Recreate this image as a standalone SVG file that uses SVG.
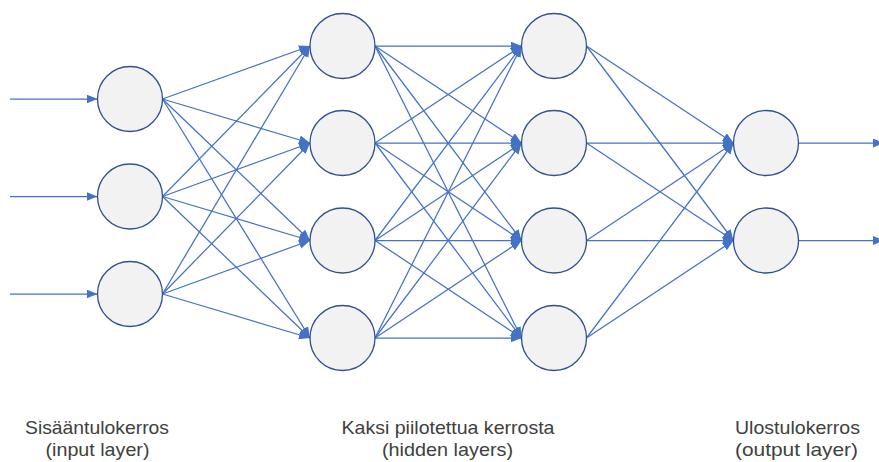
<svg xmlns="http://www.w3.org/2000/svg" width="879" height="462" viewBox="0 0 879 462">
<style>
.node{fill:#F2F2F2;stroke:#2F528F;stroke-width:1.3}
.edge{stroke:#4472C4;stroke-width:1.25;fill:none;marker-end:url(#arr)}
.lbl{font-family:"Liberation Sans",Arial,sans-serif;font-size:19px;fill:#404040;text-anchor:middle}
</style>
<defs>
<marker id="arr" markerUnits="userSpaceOnUse" markerWidth="12" markerHeight="10" refX="11" refY="4.5" orient="auto" viewBox="0 0 12 10">
<path d="M0,0 L11,4.5 L0,9 z" fill="#4472C4"/>
</marker>
</defs>
<rect width="879" height="462" fill="#ffffff"/>
<g id="connectors">
<line class="edge" x1="10" y1="99" x2="97.5" y2="99"/>
<line class="edge" x1="10" y1="196.5" x2="97.5" y2="196.5"/>
<line class="edge" x1="10" y1="294" x2="97.5" y2="294"/>
<line class="edge" x1="162.5" y1="99" x2="310" y2="46"/>
<line class="edge" x1="162.5" y1="99" x2="310" y2="143"/>
<line class="edge" x1="162.5" y1="99" x2="310" y2="240.5"/>
<line class="edge" x1="162.5" y1="99" x2="310" y2="338"/>
<line class="edge" x1="162.5" y1="196.5" x2="310" y2="46"/>
<line class="edge" x1="162.5" y1="196.5" x2="310" y2="143"/>
<line class="edge" x1="162.5" y1="196.5" x2="310" y2="240.5"/>
<line class="edge" x1="162.5" y1="196.5" x2="310" y2="338"/>
<line class="edge" x1="162.5" y1="294" x2="310" y2="46"/>
<line class="edge" x1="162.5" y1="294" x2="310" y2="143"/>
<line class="edge" x1="162.5" y1="294" x2="310" y2="240.5"/>
<line class="edge" x1="162.5" y1="294" x2="310" y2="338"/>
<line class="edge" x1="375" y1="46" x2="521.5" y2="46"/>
<line class="edge" x1="375" y1="46" x2="521.5" y2="143"/>
<line class="edge" x1="375" y1="46" x2="521.5" y2="240.5"/>
<line class="edge" x1="375" y1="46" x2="521.5" y2="338"/>
<line class="edge" x1="375" y1="143" x2="521.5" y2="46"/>
<line class="edge" x1="375" y1="143" x2="521.5" y2="143"/>
<line class="edge" x1="375" y1="143" x2="521.5" y2="240.5"/>
<line class="edge" x1="375" y1="143" x2="521.5" y2="338"/>
<line class="edge" x1="375" y1="240.5" x2="521.5" y2="46"/>
<line class="edge" x1="375" y1="240.5" x2="521.5" y2="143"/>
<line class="edge" x1="375" y1="240.5" x2="521.5" y2="240.5"/>
<line class="edge" x1="375" y1="240.5" x2="521.5" y2="338"/>
<line class="edge" x1="375" y1="338" x2="521.5" y2="46"/>
<line class="edge" x1="375" y1="338" x2="521.5" y2="143"/>
<line class="edge" x1="375" y1="338" x2="521.5" y2="240.5"/>
<line class="edge" x1="375" y1="338" x2="521.5" y2="338"/>
<line class="edge" x1="586.5" y1="46" x2="733.5" y2="143"/>
<line class="edge" x1="586.5" y1="46" x2="733.5" y2="240.5"/>
<line class="edge" x1="586.5" y1="143" x2="733.5" y2="143"/>
<line class="edge" x1="586.5" y1="143" x2="733.5" y2="240.5"/>
<line class="edge" x1="586.5" y1="240.5" x2="733.5" y2="143"/>
<line class="edge" x1="586.5" y1="240.5" x2="733.5" y2="240.5"/>
<line class="edge" x1="586.5" y1="338" x2="733.5" y2="143"/>
<line class="edge" x1="586.5" y1="338" x2="733.5" y2="240.5"/>
<line class="edge" x1="798.5" y1="143" x2="884" y2="143"/>
<line class="edge" x1="798.5" y1="240.5" x2="884" y2="240.5"/>
</g>
<g id="in1"><circle class="node" cx="130" cy="99" r="32.5"/></g>
<g id="in2"><circle class="node" cx="130" cy="196.5" r="32.5"/></g>
<g id="in3"><circle class="node" cx="130" cy="294" r="32.5"/></g>
<g id="h1a"><circle class="node" cx="342.5" cy="46" r="32.5"/></g>
<g id="h1b"><circle class="node" cx="342.5" cy="143" r="32.5"/></g>
<g id="h1c"><circle class="node" cx="342.5" cy="240.5" r="32.5"/></g>
<g id="h1d"><circle class="node" cx="342.5" cy="338" r="32.5"/></g>
<g id="h2a"><circle class="node" cx="554" cy="46" r="32.5"/></g>
<g id="h2b"><circle class="node" cx="554" cy="143" r="32.5"/></g>
<g id="h2c"><circle class="node" cx="554" cy="240.5" r="32.5"/></g>
<g id="h2d"><circle class="node" cx="554" cy="338" r="32.5"/></g>
<g id="out1"><circle class="node" cx="766" cy="143" r="32.5"/></g>
<g id="out2"><circle class="node" cx="766" cy="240.5" r="32.5"/></g>
<g id="labels">
<text class="lbl" x="97" y="434" textLength="144" lengthAdjust="spacingAndGlyphs">Sisääntulokerros</text>
<text class="lbl" x="97.5" y="456" textLength="104" lengthAdjust="spacingAndGlyphs">(input layer)</text>
<text class="lbl" x="448" y="434" textLength="213" lengthAdjust="spacingAndGlyphs">Kaksi piilotettua kerrosta</text>
<text class="lbl" x="447.5" y="456" textLength="131" lengthAdjust="spacingAndGlyphs">(hidden layers)</text>
<text class="lbl" x="797.5" y="434" textLength="125" lengthAdjust="spacingAndGlyphs">Ulostulokerros</text>
<text class="lbl" x="796.5" y="456" textLength="123" lengthAdjust="spacingAndGlyphs">(output  layer)</text>
</g>
</svg>
